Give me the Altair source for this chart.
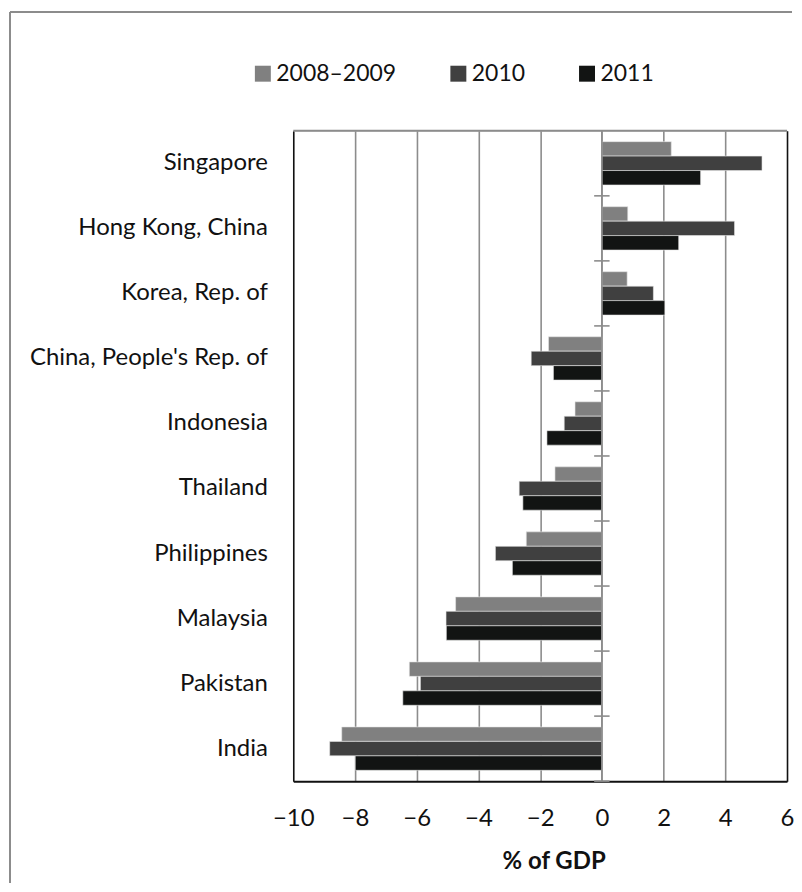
import altair as alt
import pandas as pd

countries = ["Singapore", "Hong Kong, China", "Korea, Rep. of", "China, People's Rep. of",
             "Indonesia", "Thailand", "Philippines", "Malaysia", "Pakistan", "India"]
series = ["2008–2009", "2010", "2011"]
v2008_09 = [2.25, 0.84, 0.82, -1.73, -0.87, -1.52, -2.45, -4.74, -6.24, -8.43]
v2010 = [5.19, 4.30, 1.67, -2.29, -1.22, -2.68, -3.45, -5.05, -5.88, -8.82]
v2011 = [3.20, 2.49, 2.04, -1.57, -1.78, -2.56, -2.90, -5.04, -6.45, -7.99]
x_ticks = [-10, -8, -6, -4, -2, 0, 2, 4, 6]
colors = ["#808080", "#404040", "#121413"]

rows = []
for s, vals in zip(series, [v2008_09, v2010, v2011]):
    for c, v in zip(countries, vals):
        rows.append({"country": c, "series": s, "value": v})
df = pd.DataFrame(rows)

FONT = "Lato"
GRID = "#8c8c8c"

xscale = alt.Scale(domain=[-10, 6], nice=False, zero=False)
yscale = alt.Scale(paddingInner=0, paddingOuter=0)

bars = alt.Chart(df).mark_bar(stroke="#e8e8e8", strokeWidth=0.6).encode(
    x=alt.X("value:Q", scale=xscale, stack=None,
            axis=alt.Axis(values=x_ticks, title="% of GDP", ticks=False,
                          labelFontSize=24, labelFont=FONT, labelColor="#111",
                          labelFlush=False, labelOverlap=False,
                          labelPadding=25, domainColor="#111", domainWidth=2,
                          grid=True,
                          gridColor={"condition": {"test": "datum.value == -10 || datum.value == 6",
                                                   "value": "#111"}, "value": GRID},
                          gridWidth=1.6,
                          titleFontSize=24, titleFont=FONT, titleFontWeight="bold",
                          titleColor="#111", titlePadding=20, titleX=261)),
    y=alt.Y("country:N", sort=countries, scale=yscale,
            axis=alt.Axis(title=None, domain=False, ticks=False, labelPadding=26,
                          labelFontSize=24, labelFont=FONT, labelColor="#111",
                          labelLimit=400, grid=False)),
    yOffset=alt.YOffset("series:N", sort=series,
                        scale=alt.Scale(paddingInner=0, paddingOuter=0.75)),
    color=alt.Color("series:N", sort=series,
                    scale=alt.Scale(domain=series, range=colors),
                    legend=alt.Legend(title=None, orient="none", legendX=-42, legendY=-69,
                                      direction="horizontal", symbolType="square",
                                      symbolSize=256, symbolStrokeWidth=0,
                                      labelFontSize=23, labelFont=FONT, labelColor="#111",
                                      labelOffset=2, columnPadding=50)),
)

zero = alt.Chart(pd.DataFrame({"v": [0]})).mark_rule(color=GRID, strokeWidth=1.6).encode(
    x=alt.X("v:Q", scale=xscale))

ticks = alt.Chart(pd.DataFrame({"country": countries})).mark_rule(
    color=GRID, strokeWidth=1.6).encode(
    y=alt.Y("country:N", sort=countries, bandPosition=1, scale=yscale),
    x=alt.datum(-0.25), x2=alt.datum(0.25))

one = pd.DataFrame({"k": [0]})
plot_top = alt.Chart(one).mark_rule(color=GRID, strokeWidth=2).encode(
    x=alt.value(0), x2=alt.value(495), y=alt.value(0))
frame_top = alt.Chart(one).mark_rule(color=GRID, strokeWidth=2).encode(
    x=alt.value(-284), x2=alt.value(500), y=alt.value(-119))
frame_left = alt.Chart(one).mark_rule(color=GRID, strokeWidth=2).encode(
    x=alt.value(-284), y=alt.value(-119), y2=alt.value(754))

chart = alt.layer(bars, zero, ticks, plot_top, frame_top, frame_left).properties(
    width=495, height=652,
    padding={"left": 1, "top": 2, "right": 0, "bottom": 0},
).configure_view(stroke=None).configure(font=FONT)

chart.save("out.html", embed_options={"renderer": "svg", "actions": False})
